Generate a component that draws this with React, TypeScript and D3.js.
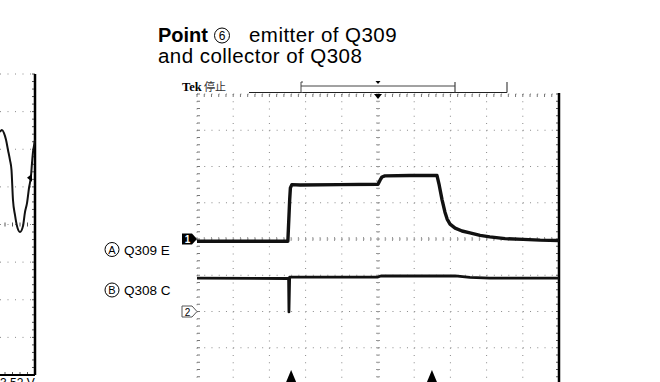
import React from "react";
import * as d3 from "d3";

// Scope screen: time (divisions) and level (divisions from centre)
const ch1Time = [0, 2.51, 2.56, 2.58, 2.62, 2.85, 3.95, 5.0, 5.06, 5.11, 5.19, 5.88, 6.63, 6.69, 6.77, 6.85, 6.91, 6.99, 7.13, 7.32, 7.54, 7.82, 8.09, 8.51, 9.01, 9.48, 10];
const ch1Level = [-0.06, -0.06, 1.08, 1.41, 1.5, 1.49, 1.5, 1.51, 1.63, 1.71, 1.74, 1.75, 1.75, 1.49, 1.08, 0.74, 0.55, 0.41, 0.3, 0.22, 0.17, 0.1, 0.06, 0.01, -0.01, -0.03, -0.04];
const ch2Time = [0, 2.5, 2.53, 2.54, 2.56, 2.85, 5.0, 5.08, 7.13, 7.54, 8.09, 10];
const ch2Level = [-1.08, -1.09, -1.09, -2.01, -1.05, -1.05, -1.05, -1.02, -1.02, -1.06, -1.08, -1.08];
const cursorTimes = [2.6, 6.49];
const channelLabels = ["Q309 E", "Q308 C"];
const channelLetters = ["A", "B"];
const channelGround = [0, -2];

// Partial neighbouring chart on the left (time in divisions before its right edge, level in divisions)
const leftTime = [-0.933, -0.88, -0.827, -0.773, -0.72, -0.667, -0.627, -0.587, -0.533, -0.48, -0.4, -0.32, -0.267, -0.213, -0.16, -0.107, -0.08, -0.053, -0.027, 0];
const leftLevel = [2.46, 2.51, 2.43, 2.25, 1.98, 1.71, 1.45, 0.65, 0.25, -0.04, -0.2, -0.04, 0.33, 0.57, 0.97, 1.29, 1.63, 1.93, 2.09, 2.25];
const leftMarker = [-0.213, 1.24];
const leftLabel = "3.52 V";

const FONT = "'Liberation Sans', Arial, Helvetica, sans-serif";

export default function App() {
  // main scope
  const x = d3.scaleLinear().domain([0, 10]).range([197, 559]);
  const y = d3.scaleLinear().domain([-4, 4]).range([384, 94]);
  const dx = (x(1) - x(0)) / 5;
  const dy = (y(0) - y(1)) / 5;

  // left partial chart
  const lx = d3.scaleLinear().domain([-10, 0]).range([-340, 35]);
  const ly = d3.scaleLinear().domain([-4, 4]).range([375, 74]);
  const ldx = (lx(1) - lx(0)) / 5;
  const ldy = (ly(0) - ly(1)) / 5;

  const line = d3.line<[number, number]>().x((d) => x(d[0])).y((d) => y(d[1])).curve(d3.curveLinear);
  const lline = d3.line<[number, number]>().x((d) => lx(d[0])).y((d) => ly(d[1])).curve(d3.curveMonotoneX);

  const ch1 = ch1Time.map((t, i) => [t, ch1Level[i]] as [number, number]);
  const ch2 = ch2Time.map((t, i) => [t, ch2Level[i]] as [number, number]);
  const lw = leftTime.map((t, i) => [t, leftLevel[i]] as [number, number]);

  const vGrid = d3.range(0, 11);
  const hGrid = d3.range(-4, 5);
  const minorX = d3.range(0, 50.01, 1).map((k) => x(0) + k * dx);
  const minorY = d3.range(0, 40.01, 1).map((k) => y(4) + k * dy);

  const gridColor = "#8a8a8a";

  // left grid
  const lGridY = d3.range(-4, 5);
  const lMinorY = d3.range(0, 41, 1).map((k) => ly(4) + k * ldy);
  const lMinorX = d3.range(0, 6).map((k) => lx(0) - k * ldx);

  const mk = [lx(leftMarker[0]), ly(leftMarker[1])];

  return (
    <svg width={660} height={382} style={{ position: "absolute", left: 0, top: 0, background: "#fff" }} fontFamily={FONT}>
      {/* ---------- left partial chart ---------- */}
      <g>
        {lGridY.map((v) => (
          <line key={"lg" + v} x1={0} x2={lx(0)} y1={ly(v)} y2={ly(v)} stroke={gridColor} strokeWidth={1} strokeDasharray={"1 " + (ldx - 1)} />
        ))}
        {lMinorY.map((yy, i) => (
          <line key={"lmy" + i} x1={lx(0) - 3} x2={lx(0)} y1={yy} y2={yy} stroke="#555" strokeWidth={1} />
        ))}
        {lMinorX.map((xx, i) => (
          <g key={"lmx" + i}>
            <line x1={xx} x2={xx} y1={ly(-4) - 3} y2={ly(-4)} stroke="#555" strokeWidth={1} />
            <line x1={xx} x2={xx} y1={ly(0) - 2} y2={ly(0) + 2} stroke="#555" strokeWidth={1} />
          </g>
        ))}
        <line x1={lx(0)} x2={lx(0)} y1={ly(4)} y2={ly(-4)} stroke="#000" strokeWidth={2.5} />
        <line x1={0} x2={lx(0)} y1={ly(-4)} y2={ly(-4)} stroke="#000" strokeWidth={2} />
        <path d={lline(lw) || ""} fill="none" stroke="#111" strokeWidth={2} />
        <path d={`M${mk[0]},${mk[1]} l5,-4 l0,8 z`} fill="#000" />
        <text x={0} y={387} fontSize={12} fill="#000">{leftLabel}</text>
      </g>

      {/* ---------- title ---------- */}
      <text x={158} y={42} fontSize={20} fill="#000">
        <tspan fontWeight="bold">Point</tspan>
      </text>
      <circle cx={222} cy={35.5} r={7.5} fill="none" stroke="#000" strokeWidth={1} />
      <text x={222} y={40} fontSize={12} textAnchor="middle" fill="#000">6</text>
      <text x={249} y={42} fontSize={20.5} fill="#000" letterSpacing={0.45}>emitter of Q309</text>
      <text x={158} y={62.5} fontSize={20.5} fill="#000" letterSpacing={0.45}>and collector of Q308</text>

      {/* ---------- scope header ---------- */}
      <text x={182} y={91} fontSize={12.5} fontWeight="bold" fontFamily="'Liberation Serif', 'Times New Roman', serif" fill="#000">Tek</text>
      <text x={204} y={91} fontSize={11} fontFamily="'Noto Sans CJK JP', sans-serif" fill="#333">停止</text>
      <line x1={249} x2={507} y1={92.5} y2={92.5} stroke="#222" strokeWidth={1} />
      <line x1={301} x2={455} y1={86} y2={86} stroke="#444" strokeWidth={1} />
      <path d="M303,82 L301,82 L301,92.5 L303,92.5" fill="none" stroke="#444" strokeWidth={1} />
      <line x1={455} x2={455} y1={82} y2={92.5} stroke="#444" strokeWidth={1.2} />
      <line x1={507} x2={507} y1={82} y2={92.5} stroke="#444" strokeWidth={1.2} />
      <path d={`M${x(5) - 2.5},81 L${x(5) + 2.5},81 L${x(5)},84 Z`} fill="#000" />

      {/* ---------- scope grid ---------- */}
      <g>
        {vGrid.map((v) => (
          <line key={"vg" + v} x1={x(v)} x2={x(v)} y1={y(4)} y2={y(-4)} stroke={gridColor} strokeWidth={1} strokeDasharray={"1 " + (dy - 1)} />
        ))}
        {hGrid.map((v) => (
          <line key={"hg" + v} x1={x(0)} x2={x(10)} y1={y(v)} y2={y(v)} stroke={gridColor} strokeWidth={1} strokeDasharray={"1 " + (dx - 1)} />
        ))}
        {minorX.map((xx, i) => (
          <g key={"mx" + i}>
            <line x1={xx} x2={xx} y1={y(4)} y2={y(4) + 3} stroke="#777" strokeWidth={1} />
            <line x1={xx} x2={xx} y1={y(0) - 2} y2={y(0) + 2} stroke="#999" strokeWidth={1} />
          </g>
        ))}
        {minorY.map((yy, i) => (
          <g key={"my" + i}>
            <line x1={x(0)} x2={x(0) + 3} y1={yy} y2={yy} stroke="#777" strokeWidth={1} />
            <line x1={x(10) - 3} x2={x(10)} y1={yy} y2={yy} stroke="#555" strokeWidth={1} />
            <line x1={x(5) - 2} x2={x(5) + 2} y1={yy} y2={yy} stroke="#999" strokeWidth={1} />
          </g>
        ))}
        <line x1={x(10)} x2={x(10)} y1={y(4) - 1} y2={382} stroke="#000" strokeWidth={2.5} />
        <path d={`M${x(5) - 4},${y(4)} L${x(5) + 4},${y(4)} L${x(5)},${y(4) + 5} Z`} fill="#000" />
      </g>

      {/* ---------- traces ---------- */}
      <path d={line(ch2) || ""} fill="none" stroke="#111" strokeWidth={2.8} strokeLinejoin="round" />
      <path d={line(ch1) || ""} fill="none" stroke="#111" strokeWidth={3.4} strokeLinejoin="round" />

      {/* ---------- channel ground markers ---------- */}
      <g>
        <path d={`M182,${y(channelGround[0]) - 5.5} L192,${y(channelGround[0]) - 5.5} L197,${y(channelGround[0])} L192,${y(channelGround[0]) + 5.5} L182,${y(channelGround[0]) + 5.5} Z`} fill="#000" />
        <text x={187.5} y={y(channelGround[0]) + 4} fontSize={10} fontWeight="bold" textAnchor="middle" fill="#fff">1</text>
        <path d={`M182,${y(channelGround[1]) - 5.5} L192,${y(channelGround[1]) - 5.5} L197,${y(channelGround[1])} L192,${y(channelGround[1]) + 5.5} L182,${y(channelGround[1]) + 5.5} Z`} fill="#fff" stroke="#555" strokeWidth={1} />
        <text x={187.5} y={y(channelGround[1]) + 4} fontSize={10} textAnchor="middle" fill="#000">2</text>
      </g>

      {/* ---------- cursor markers ---------- */}
      {cursorTimes.map((t, i) => (
        <path key={"cur" + i} d={`M${x(t)},370 L${x(t) + 5},382 L${x(t) - 5},382 Z`} fill="#000" />
      ))}

      {/* ---------- channel labels ---------- */}
      {channelLabels.map((lab, i) => {
        const cy = i === 0 ? 249.5 : 290;
        return (
          <g key={"lab" + i}>
            <circle cx={112} cy={cy} r={7} fill="none" stroke="#000" strokeWidth={1} />
            <text x={112} y={cy + 4} fontSize={11} textAnchor="middle" fill="#000">{channelLetters[i]}</text>
            <text x={124} y={cy + 5} fontSize={13.5} fill="#000">{lab}</text>
          </g>
        );
      })}
    </svg>
  );
}
